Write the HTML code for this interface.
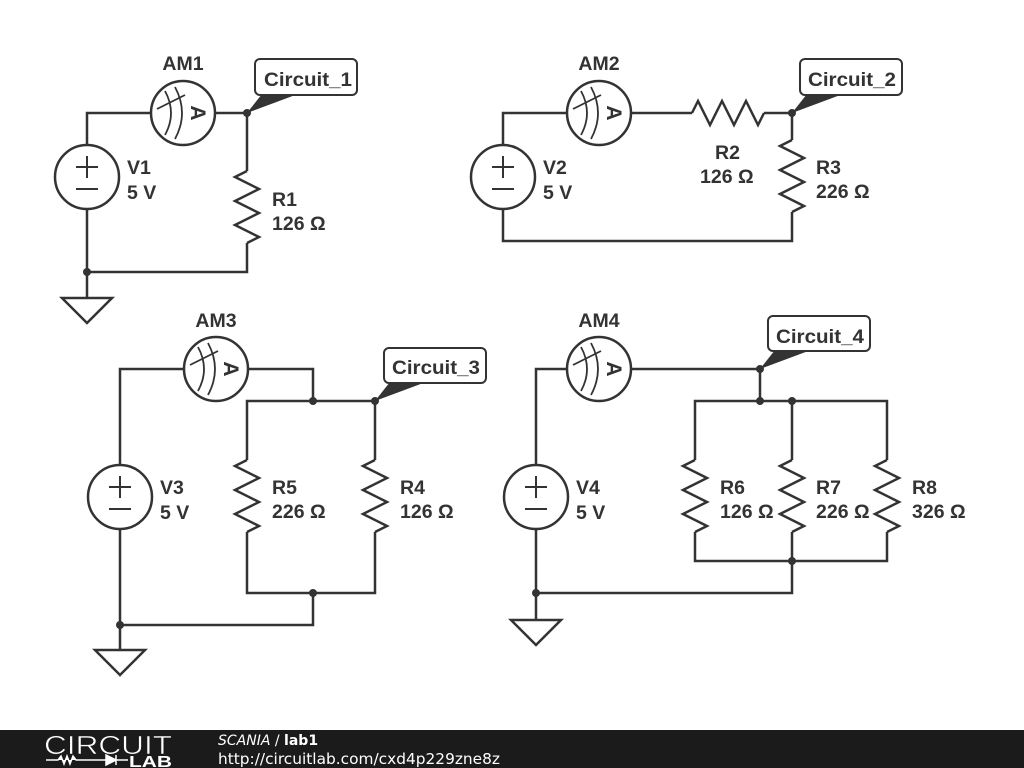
<!DOCTYPE html>
<html><head><meta charset="utf-8"><style>
html,body{margin:0;padding:0;background:#fff;}
svg{display:block;}
text{font-family:"Liberation Sans",Arial,sans-serif;}
</style></head><body>
<svg width="1024" height="768" viewBox="0 0 1024 768" xmlns="http://www.w3.org/2000/svg">
<defs>
<g id="am">
  <circle cx="0" cy="0" r="32" fill="#fff" stroke="#333" stroke-width="2.5"/>
  <path d="M-18 -22 Q-6 0 -18 22" fill="none" stroke="#333" stroke-width="1.8"/>
  <path d="M-8 -26 Q6 0 -8 26" fill="none" stroke="#333" stroke-width="1.8"/>
  <path d="M-26 -4 L2 -18" fill="none" stroke="#333" stroke-width="1.8"/>
  <text transform="translate(8,0) rotate(90)" x="0" y="0" text-anchor="middle" font-size="21" font-weight="bold" fill="#333">A</text>
</g>
<g id="vs">
  <circle cx="0" cy="0" r="32" fill="#fff" stroke="#333" stroke-width="2.5"/>
  <path d="M-11 -10 H11 M0 -21 V1 M-11 12 H11" stroke="#333" stroke-width="2"/>
</g>
<g id="gnd">
  <path d="M-25 0 H25 L0 25 Z" fill="#fff" stroke="#333" stroke-width="2.5" stroke-linejoin="miter"/>
</g>
</defs>
<g fill="none" stroke="#333" stroke-width="2.5" stroke-linejoin="miter">
<path d="M87 145 V113 H151 M215 113 H247 V171 M247 243 V272 H87 V209 M87 272 V298"/>
<path d="M247 171 l-12 6 l24 12 l-24 12 l24 12 l-24 12 l24 12 l-12 6"/>
<path d="M503 145 V113 H567 M631 113 H692 M764 113 H792 V140 M792 212 V241 H503 V209"/>
<path d="M692 113 l6 -12 l12 24 l12 -24 l12 24 l12 -24 l12 24 l6 -12"/>
<path d="M792 140 l-12 6 l24 12 l-24 12 l24 12 l-24 12 l24 12 l-12 6"/>
<path d="M120 465 V369 H184 M248 369 H313 V401 M247 460 V401 H375 V460 M247 532 V593 H375 V532 M313 593 V625 H120 V529 M120 625 V650"/>
<path d="M247 460 l-12 6 l24 12 l-24 12 l24 12 l-24 12 l24 12 l-12 6"/>
<path d="M375 460 l-12 6 l24 12 l-24 12 l24 12 l-24 12 l24 12 l-12 6"/>
<path d="M536 465 V369 H567 M631 369 H760 V401 M695 460 V401 H887 V460 M792 401 V460 M695 532 V561 H887 V532 M792 532 V593 H536 V529 M536 593 V620"/>
<path d="M695 460 l-12 6 l24 12 l-24 12 l24 12 l-24 12 l24 12 l-12 6"/>
<path d="M792 460 l-12 6 l24 12 l-24 12 l24 12 l-24 12 l24 12 l-12 6"/>
<path d="M887 460 l-12 6 l24 12 l-24 12 l24 12 l-24 12 l24 12 l-12 6"/>
</g>
<use href="#am" x="183" y="113"/>
<use href="#am" x="599" y="113"/>
<use href="#am" x="216" y="369"/>
<use href="#am" x="599" y="369"/>
<use href="#vs" x="87" y="177"/>
<use href="#vs" x="503" y="177"/>
<use href="#vs" x="120" y="497"/>
<use href="#vs" x="536" y="497"/>
<use href="#gnd" x="87" y="298"/>
<use href="#gnd" x="120" y="650"/>
<use href="#gnd" x="536" y="620"/>
<g fill="#333">
<circle cx="247" cy="113" r="4"/><circle cx="87" cy="272" r="4"/>
<circle cx="792" cy="113" r="4"/>
<circle cx="313" cy="401" r="4"/><circle cx="375" cy="401" r="4"/><circle cx="313" cy="593" r="4"/><circle cx="120" cy="625" r="4"/>
<circle cx="760" cy="369" r="4"/><circle cx="760" cy="401" r="4"/><circle cx="792" cy="401" r="4"/><circle cx="792" cy="561" r="4"/><circle cx="536" cy="593" r="4"/>
<polygon points="247,113 262,94 298,94"/>
<polygon points="792,113 807,94 843,94"/>
<polygon points="375,401 390,382 426,382"/>
<polygon points="760,369 775,350 811,350"/>
</g>
<g fill="#fff" stroke="#333" stroke-width="2">
<rect x="255" y="59" width="102" height="36" rx="5"/>
<rect x="800" y="59" width="102" height="36" rx="5"/>
<rect x="384" y="348" width="102" height="35" rx="5"/>
<rect x="768" y="316" width="102" height="35" rx="5"/>
</g>
<g font-size="19.5" font-weight="bold" fill="#333">
<text x="264" y="86" textLength="88" lengthAdjust="spacingAndGlyphs">Circuit_1</text>
<text x="808" y="86" textLength="88" lengthAdjust="spacingAndGlyphs">Circuit_2</text>
<text x="392" y="374" textLength="88" lengthAdjust="spacingAndGlyphs">Circuit_3</text>
<text x="776" y="343" textLength="88" lengthAdjust="spacingAndGlyphs">Circuit_4</text>
<g text-anchor="middle">
<text x="183" y="70">AM1</text><text x="599" y="70">AM2</text>
<text x="216" y="327">AM3</text><text x="599" y="327">AM4</text>
</g>
<text x="127" y="174">V1</text><text x="127" y="199">5 V</text>
<text x="543" y="174">V2</text><text x="543" y="199">5 V</text>
<text x="160" y="494">V3</text><text x="160" y="519">5 V</text>
<text x="576" y="494">V4</text><text x="576" y="519">5 V</text>
<text x="272" y="206">R1</text><text x="272" y="230">126 Ω</text>
<text x="715" y="159">R2</text><text x="700" y="183">126 Ω</text>
<text x="816" y="174">R3</text><text x="816" y="198">226 Ω</text>
<text x="272" y="494">R5</text><text x="272" y="518">226 Ω</text>
<text x="400" y="494">R4</text><text x="400" y="518">126 Ω</text>
<text x="720" y="494">R6</text><text x="720" y="518">126 Ω</text>
<text x="816" y="494">R7</text><text x="816" y="518">226 Ω</text>
<text x="912" y="494">R8</text><text x="912" y="518">326 Ω</text>
</g>
<rect x="0" y="730" width="1024" height="38" fill="#1b1b1b"/>
<text x="44" y="754" font-size="26" fill="#fff" textLength="128" lengthAdjust="spacingAndGlyphs" stroke="#1b1b1b" stroke-width="0.6">CIRCUIT</text>
<path d="M46 760 H58 l3 -4 l3 8 l3 -8 l3 8 l3 -8 l3 4 H92 M92 760 H106 M106 755 V765 L116 760 Z M116 755 V765 M116 760 H128" stroke="#fff" stroke-width="1.5" fill="#fff"/>
<text x="129" y="767" font-size="16" font-weight="bold" fill="#fff" textLength="43" lengthAdjust="spacingAndGlyphs">LAB</text>
<text x="218" y="745" font-size="14" fill="#fff" style="font-family:'DejaVu Sans',sans-serif"><tspan font-style="italic">SCANIA</tspan> / <tspan font-weight="bold">lab1</tspan></text>
<text x="218" y="764" font-size="15" fill="#fff" style="font-family:'DejaVu Sans',sans-serif" textLength="282" lengthAdjust="spacingAndGlyphs">http://circuitlab.com/cxd4p229zne8z</text>
</svg>
</body></html>
